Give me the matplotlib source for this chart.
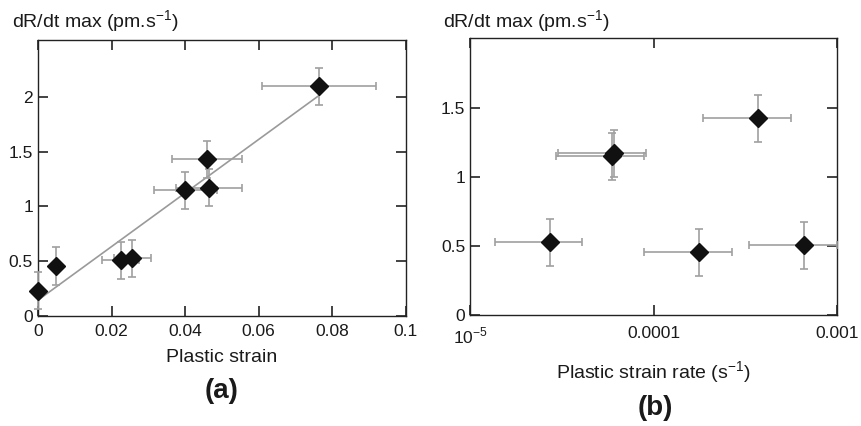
import matplotlib
matplotlib.use('Agg')
import matplotlib.pyplot as plt
from matplotlib.ticker import FixedLocator, FixedFormatter, NullLocator
import numpy as np

plt.rcParams['font.family'] = ['Liberation Sans', 'DejaVu Sans']
plt.rcParams['font.size'] = 12
plt.rcParams['mathtext.fontset'] = 'custom'
plt.rcParams['mathtext.rm'] = 'Liberation Sans'

# panel (a): rate vs plastic strain
strain = [0.0, 0.005, 0.0225, 0.0257, 0.0401, 0.0459, 0.0466, 0.0764]
strain_err = [0.0, 0.0, 0.005, 0.005, 0.0085, 0.0095, 0.009, 0.0155]
rate_a = [0.23, 0.456, 0.51, 0.526, 1.149, 1.43, 1.17, 2.097]
rate_a_err = [0.17, 0.17, 0.17, 0.17, 0.17, 0.17, 0.17, 0.17]

# panel (b): rate vs plastic strain rate
srate = [2.73e-5, 5.9e-5, 6.05e-5, 1.77e-4, 3.71e-4, 6.6e-4]
rate_b = [0.525, 1.149, 1.17, 0.455, 1.422, 0.503]
rate_b_err = [0.17, 0.17, 0.17, 0.17, 0.17, 0.17]
srate_rel_err = 0.5

ylabel = 'dR/dt max (pm.s$^{\\mathregular{-1}}$)'
ecol = '#a0a0a0'
tcol = '#1a1a1a'
lab_fs = 14
tick_fs = 12.5

fig = plt.figure(figsize=(8.61, 4.26), dpi=100)
ax1 = fig.add_axes([0.0441, 0.2582, 0.4271, 0.6479])
ax2 = fig.add_axes([0.5459, 0.2606, 0.4266, 0.6494])

for ax in (ax1, ax2):
    for s in ax.spines.values():
        s.set_linewidth(1.0)
        s.set_color('#222222')
    ax.tick_params(which='both', direction='in', top=True, right=True,
                   length=7, width=1.2, colors='#222222', labelcolor=tcol,
                   labelsize=tick_fs)

# (a)
fit = np.polyfit(strain, rate_a, 1)
xf = np.array([0, max(strain)])
ax1.plot(xf, np.polyval(fit, xf), color='#9a9a9a', lw=1.2, zorder=1)
ax1.errorbar(strain, rate_a, xerr=strain_err, yerr=rate_a_err, fmt='D',
             color='#111111', ms=9.5, ecolor=ecol, elinewidth=1.2, capsize=3,
             capthick=1.2, clip_on=False, zorder=3)
ax1.set_xlim(0, 0.1)
ax1.set_ylim(0, 2.52)
ax1.set_xticks([0, 0.02, 0.04, 0.06, 0.08, 0.1])
ax1.set_xticklabels(['0', '0.02', '0.04', '0.06', '0.08', '0.1'])
ax1.set_yticks([0, 0.5, 1, 1.5, 2])
ax1.set_yticklabels(['0', '0.5', '1', '1.5', '2'])
ax1.tick_params(axis='x', pad=6)
ax1.set_xlabel('Plastic strain', fontsize=lab_fs, color=tcol, va='center')
ax1.xaxis.set_label_coords(0.5, (316 - 357) / 276)

# (b)
xerr_b = np.array(srate) * srate_rel_err
ax2.errorbar(srate, rate_b, xerr=xerr_b, yerr=rate_b_err, fmt='D',
             color='#111111', ms=9.5, ecolor=ecol, elinewidth=1.2, capsize=3,
             capthick=1.2, zorder=3)
ax2.set_xscale('log')
ax2.set_xlim(1e-5, 1e-3)
ax2.set_ylim(0, 2.0)
ax2.xaxis.set_major_locator(FixedLocator([1e-5, 1e-4, 1e-3]))
ax2.xaxis.set_major_formatter(FixedFormatter(['10$^{\\mathregular{-5}}$', '0.0001', '0.001']))
ax2.xaxis.set_minor_locator(NullLocator())
ax2.set_yticks([0, 0.5, 1, 1.5])
ax2.set_yticklabels(['0', '0.5', '1', '1.5'])
ax2.tick_params(axis='x', pad=8)
ax2.set_xlabel('Plastic strain rate (s$^{\\mathregular{-1}}$)', fontsize=lab_fs,
               color=tcol, va='center')
ax2.xaxis.set_label_coords(0.5, (315 - 373) / 277)

fig.text(0.014, 0.948, ylabel, fontsize=lab_fs, color=tcol, va='center')
fig.text(0.514, 0.948, ylabel, fontsize=lab_fs, color=tcol, va='center')
fig.text(222 / 861, 1 - 391 / 426, '(a)', fontsize=20, fontweight='bold',
         color=tcol, ha='center', va='center')
fig.text(655 / 861, 1 - 408 / 426, '(b)', fontsize=20, fontweight='bold',
         color=tcol, ha='center', va='center')

fig.savefig('out.png', dpi=100)
